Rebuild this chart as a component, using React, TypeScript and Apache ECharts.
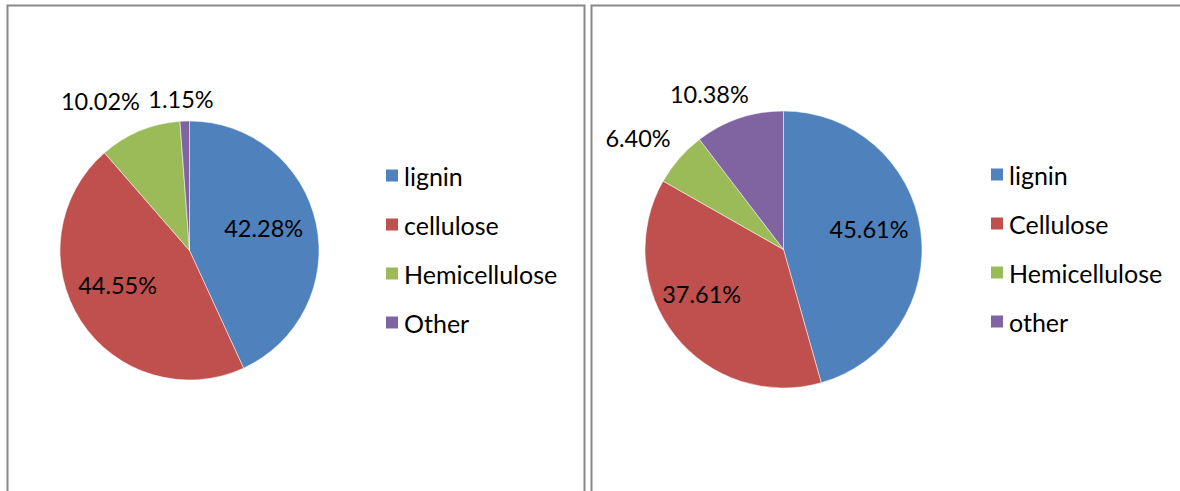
import React, { useEffect, useRef } from "react";
import * as echarts from "echarts";

// ---- data ----
const leftCategories = ["lignin", "cellulose", "Hemicellulose", "Other"];
const leftValues = [42.28, 44.55, 10.02, 1.15];
const rightCategories = ["lignin", "Cellulose", "Hemicellulose", "other"];
const rightValues = [45.61, 37.61, 6.4, 10.38];

// ---- style ----
const sliceColors = ["#4F81BD", "#C0504D", "#9BBB59", "#8064A2"];
const leftLabelNudge = [[8, -8], [-15, -2], [-63, -87], [-6, -84]];
const rightLabelNudge = [[14, -11], [-25, 0], [-91, -64], [-51, -87]];
const FONT = "Lato";
const FS = 23.5;
const LEGEND_FS = 25;

function buildPie(names: string[], values: number[], nudges: number[][], center: number[], radius: number) {
  return {
    type: "pie",
    center,
    radius,
    startAngle: 90,
    clockwise: true,
    avoidLabelOverlap: false,
    labelLine: { show: false },
    itemStyle: { borderColor: "#ffffff", borderWidth: 0.5 },
    label: {
      show: true,
      position: "inside",
      color: "#000",
      fontFamily: FONT,
      fontSize: FS,
      formatter: (p: any) => `${Number(p.value).toFixed(2)}%`,
    },
    data: names.map((n, i) => ({
      name: n,
      value: values[i],
      itemStyle: { color: sliceColors[i] },
      label: { offset: nudges[i] },
    })),
  };
}

function buildLegend(names: string[], left: number, top: number) {
  return {
    orient: "vertical",
    left,
    top,
    padding: 0,
    itemWidth: 14,
    itemHeight: 14,
    itemGap: 24,
    icon: "rect",
    selectedMode: false,
    data: names,
    textStyle: { color: "#000", fontFamily: FONT, fontSize: LEGEND_FS, lineHeight: 24 },
  };
}

export default function App() {
  const ref = useRef<HTMLDivElement>(null);
  useEffect(() => {
    if (!ref.current) return;
    const chart = echarts.init(ref.current, undefined, { renderer: "svg" });
    chart.setOption({
      animation: false,
      backgroundColor: "#ffffff",
      graphic: [
        {
          type: "rect",
          shape: { x: 7.5, y: 5.5, width: 577, height: 600 },
          style: { fill: "none", stroke: "#878787", lineWidth: 2 },
        },
        {
          type: "rect",
          shape: { x: 591.5, y: 5.5, width: 700, height: 600 },
          style: { fill: "none", stroke: "#878787", lineWidth: 2 },
        },
      ],
      legend: [
        buildLegend(leftCategories, 384, 163),
        buildLegend(rightCategories, 989, 162),
      ],
      series: [
        buildPie(leftCategories, leftValues, leftLabelNudge, [189.5, 250.5], 129.5),
        buildPie(rightCategories, rightValues, rightLabelNudge, [783.5, 249.5], 138.5),
      ],
    });
    return () => chart.dispose();
  }, []);
  return (
    <div
      ref={ref}
      style={{ position: "absolute", left: 0, top: 0, width: 1180, height: 491 }}
    />
  );
}
